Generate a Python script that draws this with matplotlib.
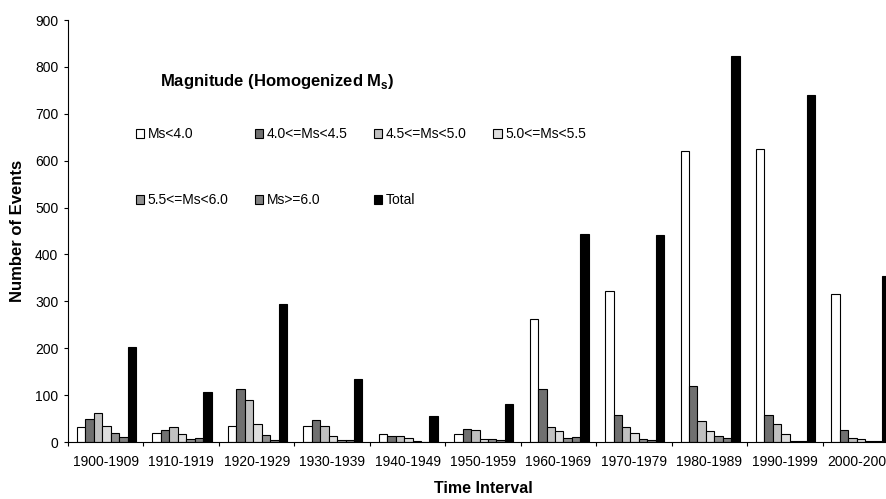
import numpy as np
import matplotlib.pyplot as plt

plt.rcParams['font.family'] = ['Liberation Sans', 'DejaVu Sans']
plt.rcParams['mathtext.fontset'] = 'custom'
plt.rcParams['mathtext.bf'] = 'Liberation Sans:bold'
plt.rcParams['mathtext.rm'] = 'Liberation Sans'

intervals = ['1900-1909', '1910-1919', '1920-1929', '1930-1939', '1940-1949',
             '1950-1959', '1960-1969', '1970-1979', '1980-1989', '1990-1999',
             '2000-2004']

ms_lt40 = [32, 20, 34, 34, 16, 16, 262, 321, 620, 624, 316]
ms_40_45 = [48, 25, 114, 46, 13, 27, 112, 57, 119, 57, 25]
ms_45_50 = [61, 32, 89, 34, 13, 25, 32, 32, 44, 39, 8]
ms_50_55 = [34, 16, 39, 12, 9, 7, 23, 20, 23, 16, 6]
ms_55_60 = [19, 6, 14, 5, 3, 7, 9, 6, 12, 3, 2]
ms_ge60 = [10, 8, 5, 5, 1, 4, 10, 4, 8, 3, 2]
total = [202, 107, 294, 134, 55, 82, 443, 442, 823, 740, 355]

series = [ms_lt40, ms_40_45, ms_45_50, ms_50_55, ms_55_60, ms_ge60, total]
labels = ['Ms<4.0', '4.0<=Ms<4.5', '4.5<=Ms<5.0', '5.0<=Ms<5.5',
          '5.5<=Ms<6.0', 'Ms>=6.0', 'Total']
colors = ['white', '#707070', '#c0c0c0', '#dedede', '#909090', '#808080', 'black']

fig = plt.figure(figsize=(8.86, 4.99), dpi=100)
ax = fig.add_axes([68/886, 57/499, 830/886, 422/499])

n = len(intervals)
x = np.arange(n)
w = 0.112
start = 0.118

handles = []
for k, (vals, lab, col) in enumerate(zip(series, labels, colors)):
    b = ax.bar(x + start + w*(k + 0.5), vals, width=w, color=col,
               edgecolor='black', linewidth=0.8, label=lab)
    handles.append(b)

ax.set_xlim(0, n)
ax.set_ylim(0, 900)
ax.set_yticks(np.arange(0, 901, 100))
ax.set_xticks(np.arange(0, n + 1))
ax.set_xticklabels([])
# group names sit between the boundary ticks
ax.set_xticks(x + 0.5, minor=True)
ax.set_xticklabels(intervals, minor=True)
ax.tick_params(axis='x', which='minor', length=0, labelsize=10, pad=9)
ax.tick_params(axis='x', which='major', length=3, direction='out')
ax.tick_params(axis='y', labelsize=10, length=3, direction='out', pad=4)
ax.spines['top'].set_visible(False)
ax.spines['right'].set_visible(False)

ax.set_ylabel('Number of Events', fontsize=12, fontweight='bold', labelpad=7)
ax.set_xlabel('Time Interval', fontsize=11.5, fontweight='bold', labelpad=9)

fig.text(160/886, 1 - 82/499, r'Magnitude (Homogenized M$_\mathbf{s}$)',
         fontsize=12, fontweight='bold', va='center', ha='left')

order = [0, 4, 1, 5, 2, 6, 3]
leg = fig.legend([handles[i] for i in order], [labels[i] for i in order],
                 ncol=4, loc='upper left', bbox_to_anchor=(136/886, 1 - 127/499),
                 frameon=False, fontsize=10, handlelength=0.6, handleheight=0.6,
                 handletextpad=0.25, columnspacing=1.9, labelspacing=3.75,
                 borderaxespad=0, borderpad=0)

fig.savefig('out.png', dpi=100)
